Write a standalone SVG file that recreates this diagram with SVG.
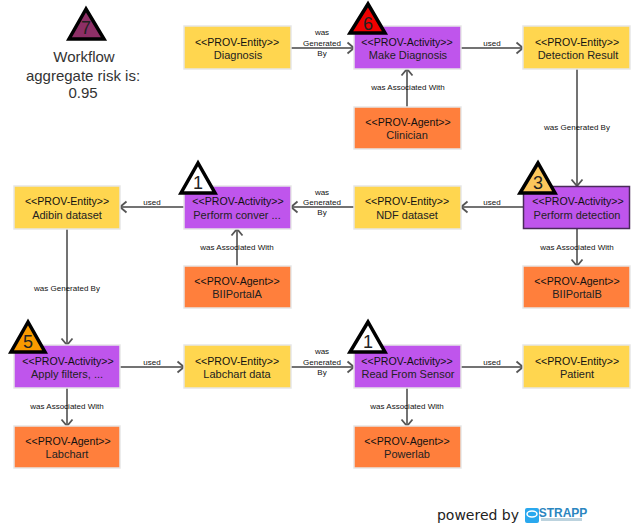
<svg xmlns="http://www.w3.org/2000/svg" width="636" height="527" viewBox="0 0 636 527">
<defs>
<style>
text{font-family:"Liberation Sans",Arial,sans-serif;text-anchor:middle}
.n rect{stroke:#e6e6e6;stroke-width:1.5}
.e rect{fill:#ffd64f}
.a rect{fill:#bf55ec}
.g rect{fill:#ff7f3c}
.n text{font-size:11px;fill:#222}
.n .t{font-size:10.6px;fill:#111}
.c path{fill:none;stroke:#737373;stroke-width:2;marker-end:url(#arr)}
.c text{font-size:8px;fill:#111}
.r polygon{stroke:#000;stroke-width:3.5;stroke-linejoin:miter}
.r text{font-size:18px;fill:#222}
</style>
<marker id="arr" markerUnits="userSpaceOnUse" markerWidth="12" markerHeight="14" refX="9" refY="7" orient="auto">
<path d="M2.500 1.500L9 7L2.500 12.500" fill="none" stroke="#555" stroke-width="1.800" style="marker-end:none"/>
</marker>
</defs>
<rect width="636" height="527" fill="#fff"/>

<g id="connectors" class="c">
<path d="M291 48H354"/>
<path d="M461 48H523"/>
<path d="M407 107V69"/>
<path d="M577 69V186"/>
<path d="M523 207H461"/>
<path d="M354 207H291"/>
<path d="M184 207H120"/>
<path d="M237 266V229"/>
<path d="M577 229V266"/>
<path d="M67 229V345"/>
<path d="M120 367H184"/>
<path d="M291 367H354"/>
<path d="M461 367H523"/>
<path d="M67 388V426"/>
<path d="M407 388V426"/>
<text x="322" y="35">was</text><text x="322" y="46">Generated</text><text x="322" y="56">By</text>
<text x="492" y="46">used</text>
<text x="408" y="90">was Associated With</text>
<text x="577" y="130">was Generated By</text>
<text x="492" y="205">used</text>
<text x="322" y="195">was</text><text x="322" y="205">Generated</text><text x="322" y="215">By</text>
<text x="152" y="205">used</text>
<text x="237" y="250">was Associated With</text>
<text x="577" y="250">was Associated With</text>
<text x="67" y="291">was Generated By</text>
<text x="152" y="365">used</text>
<text x="322" y="354">was</text><text x="322" y="365">Generated</text><text x="322" y="375">By</text>
<text x="492" y="365">used</text>
<text x="67" y="409">was Associated With</text>
<text x="407" y="409">was Associated With</text>
</g>

<g id="n-diagnosis" class="n e"><rect x="184" y="26" width="107" height="43"/><text class="t" x="237" y="46">&lt;&lt;PROV-Entity&gt;&gt;</text><text x="238" y="59">Diagnosis</text></g>
<g id="n-make-diagnosis" class="n a"><rect x="354" y="26" width="107" height="43"/><text class="t" x="407" y="46">&lt;&lt;PROV-Activity&gt;&gt;</text><text x="408" y="59">Make Diagnosis</text></g>
<g id="n-detection-result" class="n e"><rect x="523" y="26" width="107" height="43"/><text class="t" x="577" y="46">&lt;&lt;PROV-Entity&gt;&gt;</text><text x="578" y="59">Detection Result</text></g>
<g id="n-clinician" class="n g"><rect x="354" y="107" width="107" height="42"/><text class="t" x="408" y="126">&lt;&lt;PROV-Agent&gt;&gt;</text><text x="407" y="139">Clinician</text></g>
<g id="n-adibin" class="n e"><rect x="14" y="186" width="106" height="43"/><text class="t" x="67" y="205">&lt;&lt;PROV-Entity&gt;&gt;</text><text x="67" y="219">Adibin dataset</text></g>
<g id="n-perform-conver" class="n a"><rect x="184" y="186" width="107" height="43"/><text class="t" x="238" y="205">&lt;&lt;PROV-Activity&gt;&gt;</text><text x="237" y="219">Perform conver ...</text></g>
<g id="n-ndf" class="n e"><rect x="354" y="186" width="107" height="43"/><text class="t" x="407" y="205">&lt;&lt;PROV-Entity&gt;&gt;</text><text x="407" y="219">NDF dataset</text></g>
<g id="n-perform-detection" class="n a"><rect x="523.500" y="186.500" width="106" height="42" style="stroke:#4a2a5a"/><text class="t" x="578" y="205">&lt;&lt;PROV-Activity&gt;&gt;</text><text x="577" y="219">Perform detection</text></g>
<g id="n-biiportala" class="n g"><rect x="184" y="266" width="107" height="42"/><text class="t" x="237" y="285">&lt;&lt;PROV-Agent&gt;&gt;</text><text x="237" y="298">BIIPortalA</text></g>
<g id="n-biiportalb" class="n g"><rect x="523" y="266" width="107" height="42"/><text class="t" x="577" y="285">&lt;&lt;PROV-Agent&gt;&gt;</text><text x="577" y="298">BIIPortalB</text></g>
<g id="n-apply-filters" class="n a"><rect x="14" y="345" width="106" height="43"/><text class="t" x="68" y="365">&lt;&lt;PROV-Activity&gt;&gt;</text><text x="67" y="378">Apply filters, ...</text></g>
<g id="n-labchart-data" class="n e"><rect x="184" y="345" width="107" height="43"/><text class="t" x="237" y="365">&lt;&lt;PROV-Entity&gt;&gt;</text><text x="237" y="378">Labchart data</text></g>
<g id="n-read-sensor" class="n a"><rect x="354" y="345" width="107" height="43"/><text class="t" x="407" y="365">&lt;&lt;PROV-Activity&gt;&gt;</text><text x="408" y="378">Read From Sensor</text></g>
<g id="n-patient" class="n e"><rect x="523" y="345" width="107" height="43"/><text class="t" x="577" y="365">&lt;&lt;PROV-Entity&gt;&gt;</text><text x="577" y="378">Patient</text></g>
<g id="n-labchart" class="n g"><rect x="14" y="426" width="106" height="42"/><text class="t" x="68" y="445">&lt;&lt;PROV-Agent&gt;&gt;</text><text x="67" y="458">Labchart</text></g>
<g id="n-powerlab" class="n g"><rect x="354" y="426" width="107" height="42"/><text class="t" x="407" y="445">&lt;&lt;PROV-Agent&gt;&gt;</text><text x="407" y="458">Powerlab</text></g>

<g id="risk-7" class="r"><polygon points="86,9 69,39 104,39" fill="#8e2f66"/><text x="86" y="34">7</text></g>
<g id="risk-6" class="r"><polygon points="368,4 350,33 385,33" fill="#f00000"/><text x="368" y="30">6</text></g>
<g id="risk-1a" class="r"><polygon points="198,163 181,193 215,193" fill="#fff"/><text x="198" y="189">1</text></g>
<g id="risk-3" class="r"><polygon points="538,163 520,193 555,193" fill="#fcc65c"/><text x="538" y="189">3</text></g>
<g id="risk-5" class="r"><polygon points="28,322 11,352 45,352" fill="#f99a00"/><text x="28" y="348">5</text></g>
<g id="risk-1b" class="r"><polygon points="368,322 350,352 385,352" fill="#fff"/><text x="368" y="348">1</text></g>

<g id="aggregate" style="font-size:15px" fill="#333"><text x="84" y="62">Workflow</text><text x="83" y="81">aggregate risk is:</text><text x="83" y="98">0.95</text></g>

<g id="powered-by">
<text x="478" y="520" style="font-size:14px;font-family:'DejaVu Sans',sans-serif" fill="#222">powered by</text>
<rect x="525" y="508" width="14" height="15" rx="2" fill="#2aa8ee"/>
<ellipse cx="532" cy="514" rx="5" ry="3" fill="none" stroke="#fff" stroke-width="1.500"/>
<text x="563" y="517" style="font-size:12px;font-weight:bold" fill="#2b86c0">STRAPP</text>
<rect x="541" y="518" width="41" height="3" fill="#bcd3de"/>
</g>
</svg>
